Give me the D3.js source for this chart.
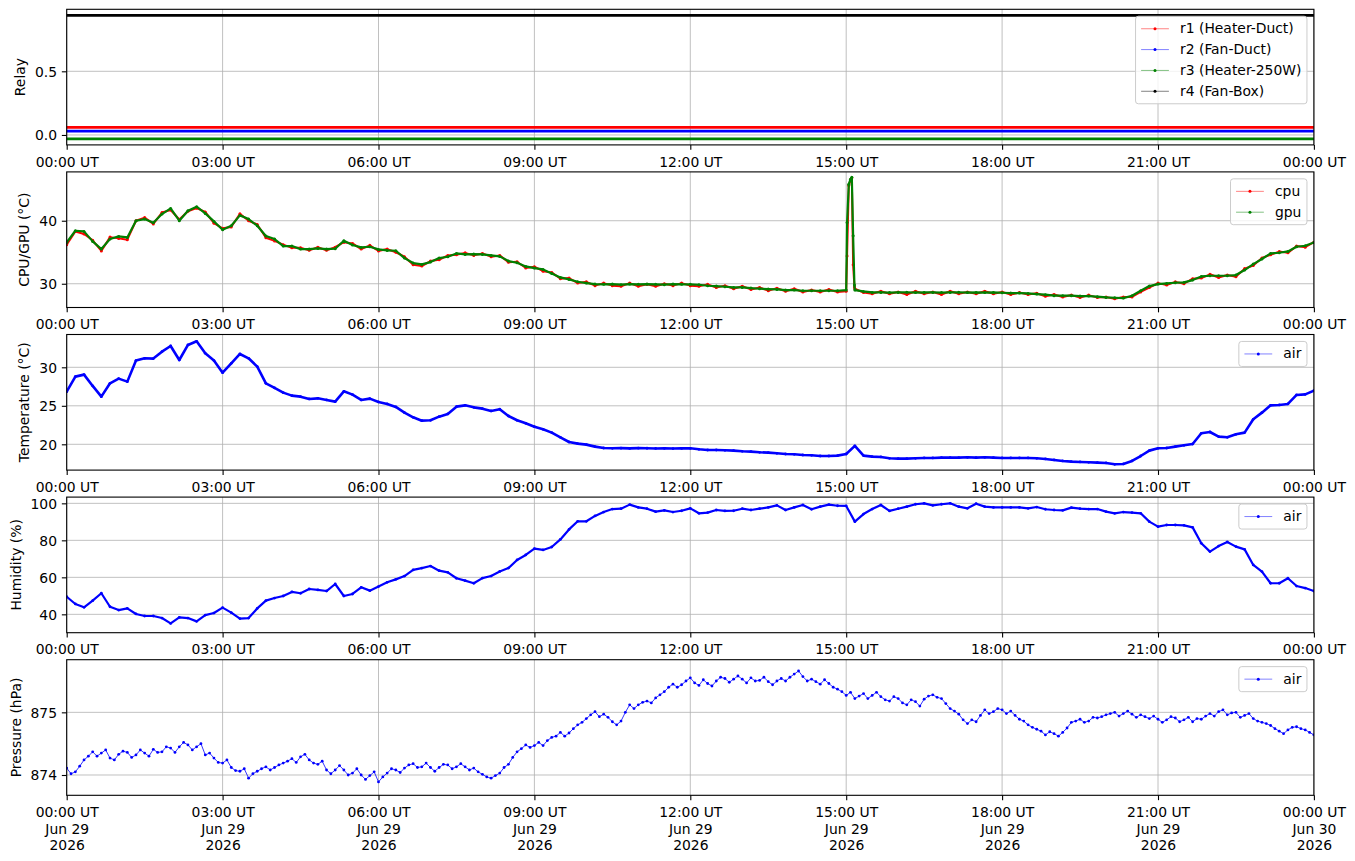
<!DOCTYPE html>
<html>
<head>
<meta charset="utf-8">
<script src="https://cdn.jsdelivr.net/npm/d3@7"></script>
<style>
  body { margin: 0; background: #fff; }
  svg { display: block; }
</style>
</head>
<body>
<div id="chart"></div>
<script>
// ---------------- data ----------------
// sample times, minutes after 00:00 UT on Jun 29 2026
var minutes = d3.range(0, 1441, 10);   // every 10 min
var minutes5 = d3.range(0, 1441, 5);   // every 5 min (pressure is noisier)

// relays: no switching during the day, plotted with a small offset so they don't overlap
var relayNames = ["r1 (Heater-Duct)", "r2 (Fan-Duct)", "r3 (Heater-250W)", "r4 (Fan-Box)"];
var relayMinutes = [0, 1440];
var relayStates = [[0, 0], [0, 0], [0, 0], [1, 1]];
var relayOffsets = [0.06, 0.03, -0.03, -0.06];

var gpuTemp = [
  36.56, 38.41, 38.31, 36.72, 35.50, 37.09, 37.51, 37.35, 40.00, 40.26,
  39.68, 41.06, 41.96, 40.00, 41.59, 42.22, 41.16, 39.89, 38.57, 39.21,
  40.85, 40.26, 39.21, 37.57, 37.09, 35.98, 35.98, 35.50, 35.50, 35.61,
  35.50, 35.56, 36.83, 36.14, 35.77, 35.87, 35.45, 35.29, 35.24, 34.07,
  33.28, 33.07, 33.44, 34.07, 34.29, 34.81, 34.66, 34.71, 34.66, 34.50,
  34.34, 33.60, 33.33, 32.75, 32.49, 32.28, 31.64, 31.01, 30.69, 30.32,
  30.11, 29.95, 29.90, 29.95, 29.85, 29.95, 29.90, 29.95, 29.90, 29.85,
  29.95, 29.90, 29.90, 29.84, 29.68, 29.63, 29.52, 29.42, 29.42, 29.31,
  29.21, 29.15, 29.10, 29.00, 29.00, 28.89, 28.89, 28.89, 28.89, 28.89,
  29.00, 29.00, 28.78, 28.62, 28.62, 28.60, 28.62, 28.65, 28.60, 28.62,
  28.62, 28.60, 28.62, 28.65, 28.60, 28.62, 28.60, 28.62, 28.57, 28.52,
  28.52, 28.47, 28.36, 28.26, 28.10, 28.10, 28.10, 28.05, 28.05, 27.95,
  27.83, 27.78, 27.72, 28.10, 28.89, 29.63, 29.95, 30.05, 30.16, 30.21,
  30.58, 31.16, 31.27, 31.27, 31.27, 31.38, 32.17, 33.12, 33.92, 34.81,
  34.92, 35.13, 35.87, 36.03, 36.56
];
var cpuTemp = [
  36.2, 38.3, 37.9, 36.9, 35.2, 37.4, 37.2, 37.0, 40.0, 40.5,
  39.5, 41.3, 41.7, 40.2, 41.5, 42.0, 41.4, 39.6, 38.8, 39.0,
  41.1, 40.0, 39.4, 37.3, 36.8, 36.2, 35.7, 35.7, 35.3, 35.8,
  35.3, 35.8, 36.6, 36.4, 35.5, 36.1, 35.2, 35.5, 35.0, 34.3,
  33.0, 32.8, 33.6, 33.8, 34.5, 34.6, 34.9, 34.5, 34.8, 34.3,
  34.5, 33.4, 33.5, 32.5, 32.7, 32.0, 31.8, 30.8, 30.9, 30.1,
  30.3, 29.7, 30.1, 29.7, 29.6, 30.1, 29.6, 29.9, 29.6, 30.0,
  29.7, 30.1, 29.7, 29.6, 29.9, 29.4, 29.7, 29.2, 29.6, 29.1,
  29.4, 28.9, 29.3, 28.8, 29.2, 28.7, 29.0, 28.7, 29.1, 28.7,
  28.8, 29.2, 28.6, 28.4, 28.8, 28.4, 28.7, 28.3, 28.8, 28.4,
  28.7, 28.3, 28.8, 28.4, 28.7, 28.4, 28.8, 28.4, 28.7, 28.3,
  28.6, 28.3, 28.5, 28.0, 28.3, 27.9, 28.2, 27.8, 28.2, 27.8,
  27.9, 27.6, 27.9, 27.9, 28.7, 29.4, 30.1, 29.8, 30.3, 30.0,
  30.8, 30.9, 31.5, 31.0, 31.4, 31.1, 32.4, 32.9, 34.1, 34.6,
  35.1, 34.9, 36.0, 35.8, 36.6
];
// extra samples around the short spike just after 15:00 UT
var spikeMinutes = [901, 903, 905, 906.5, 908, 909.5];
var spikeCpu = [34.4, 45.6, 46.5, 46.8, 33.0, 29.5];
var spikeGpu = [39.7, 45.8, 46.6, 46.9, 37.6, 29.8];

var airTemp = [
  26.84, 28.79, 29.05, 27.58, 26.19, 27.92, 28.53, 28.14, 30.87, 31.17,
  31.13, 32.03, 32.77, 30.95, 32.90, 33.38, 31.82, 30.87, 29.30, 30.52,
  31.73, 31.17, 30.09, 27.92, 27.32, 26.71, 26.32, 26.19, 25.89, 25.97,
  25.76, 25.54, 26.88, 26.45, 25.76, 25.93, 25.50, 25.24, 24.85, 24.11,
  23.51, 23.07, 23.12, 23.59, 23.94, 24.89, 25.06, 24.80, 24.63, 24.33,
  24.55, 23.68, 23.12, 22.73, 22.29, 21.95, 21.52, 20.91, 20.30, 20.09,
  19.96, 19.70, 19.52, 19.48, 19.50, 19.47, 19.50, 19.49, 19.46, 19.48,
  19.45, 19.47, 19.48, 19.35, 19.26, 19.26, 19.22, 19.18, 19.09, 19.05,
  18.96, 18.92, 18.83, 18.74, 18.70, 18.61, 18.57, 18.48, 18.48, 18.53,
  18.74, 19.80, 18.53, 18.40, 18.36, 18.18, 18.14, 18.14, 18.18, 18.23,
  18.23, 18.27, 18.27, 18.27, 18.31, 18.27, 18.31, 18.27, 18.23, 18.23,
  18.23, 18.23, 18.18, 18.10, 17.97, 17.84, 17.75, 17.71, 17.66, 17.62,
  17.58, 17.40, 17.45, 17.84, 18.48, 19.18, 19.48, 19.52, 19.70, 19.87,
  20.04, 21.43, 21.60, 21.00, 20.91, 21.30, 21.52, 23.25, 24.11, 25.06,
  25.11, 25.24, 26.41, 26.49, 26.97
];

var airHumidity = [
  49.5, 45.6, 43.8, 47.4, 51.4, 44.1, 42.3, 43.2, 40.2, 39.1,
  39.1, 38.0, 35.1, 38.4, 38.0, 36.2, 39.6, 40.7, 43.6, 40.9,
  37.7, 38.0, 43.2, 47.4, 48.8, 49.9, 52.1, 51.4, 53.7, 53.2,
  52.6, 56.4, 49.9, 51.0, 54.6, 52.8, 55.0, 57.3, 58.9, 60.7,
  64.0, 65.0, 66.1, 63.6, 62.7, 59.5, 58.2, 56.8, 59.6, 60.7,
  63.2, 65.0, 69.4, 72.1, 75.5, 74.8, 76.4, 80.5, 85.9, 90.3,
  90.3, 93.2, 95.3, 96.9, 97.1, 99.3, 97.8, 97.1, 95.5, 96.2,
  95.3, 96.0, 97.3, 94.6, 95.0, 96.4, 95.9, 96.0, 97.1, 96.4,
  97.1, 97.8, 98.9, 96.4, 97.8, 99.1, 96.8, 98.2, 99.3, 98.7,
  98.6, 90.1, 94.2, 96.9, 99.1, 95.9, 97.1, 98.2, 99.5, 100.0,
  98.9, 99.5, 100.0, 98.2, 97.3, 99.8, 98.2, 97.8, 97.8, 97.8,
  97.8, 97.3, 98.0, 96.8, 96.4, 96.2, 97.7, 97.1, 96.9, 96.9,
  95.5, 94.6, 95.3, 95.0, 94.6, 90.1, 87.4, 88.3, 88.3, 88.1,
  87.0, 78.4, 73.9, 76.9, 79.1, 76.6, 75.1, 66.7, 63.1, 56.8,
  56.8, 59.5, 55.3, 54.2, 52.6
];

// pressure, every 5 min
var airPressure = [
  874.11, 874.02, 874.05, 874.14, 874.24, 874.30, 874.37, 874.30, 874.35, 874.40, 874.27, 874.24, 874.33, 874.38, 874.36, 874.28, 874.32, 874.40, 874.35, 874.30,
  874.41, 874.36, 874.37, 874.45, 874.43, 874.36, 874.45, 874.52, 874.48, 874.40, 874.45, 874.50, 874.32, 874.35, 874.27, 874.20, 874.19, 874.24, 874.12, 874.07,
  874.06, 874.10, 873.95, 874.02, 874.06, 874.10, 874.13, 874.08, 874.12, 874.16, 874.19, 874.22, 874.26, 874.20, 874.29, 874.33, 874.24, 874.19, 874.17, 874.22,
  874.08, 874.02, 874.08, 874.15, 874.08, 874.00, 874.03, 874.10, 874.00, 873.93, 873.99, 874.05, 873.89, 873.97, 874.03, 874.10, 874.08, 874.04, 874.11, 874.16,
  874.18, 874.12, 874.13, 874.19, 874.12, 874.06, 874.12, 874.17, 874.16, 874.10, 874.13, 874.18, 874.13, 874.08, 874.11, 874.05, 874.01, 873.97, 873.95, 873.99,
  874.03, 874.12, 874.17, 874.28, 874.37, 874.42, 874.48, 874.44, 874.47, 874.52, 874.47, 874.55, 874.60, 874.62, 874.68, 874.62, 874.67, 874.74, 874.80, 874.84,
  874.90, 874.96, 875.01, 874.93, 874.97, 874.92, 874.85, 874.80, 874.86, 875.00, 875.12, 875.06, 875.12, 875.16, 875.18, 875.15, 875.23, 875.28, 875.33, 875.40,
  875.45, 875.40, 875.44, 875.50, 875.55, 875.47, 875.43, 875.52, 875.46, 875.42, 875.50, 875.56, 875.54, 875.48, 875.53, 875.58, 875.53, 875.47, 875.55, 875.50,
  875.51, 875.56, 875.49, 875.44, 875.50, 875.54, 875.50, 875.56, 875.61, 875.66, 875.57, 875.50, 875.53, 875.49, 875.45, 875.52, 875.46, 875.40, 875.37, 875.33,
  875.27, 875.32, 875.22, 875.26, 875.30, 875.22, 875.27, 875.32, 875.25, 875.20, 875.18, 875.25, 875.22, 875.15, 875.12, 875.20, 875.17, 875.10, 875.21, 875.26,
  875.28, 875.24, 875.22, 875.14, 875.06, 875.02, 874.97, 874.88, 874.82, 874.88, 874.85, 874.95, 875.04, 874.98, 875.01, 875.06, 875.04, 874.98, 875.02, 874.95,
  874.89, 874.86, 874.80, 874.76, 874.73, 874.70, 874.64, 874.69, 874.66, 874.62, 874.68, 874.75, 874.84, 874.86, 874.89, 874.84, 874.86, 874.92, 874.91, 874.93,
  874.96, 874.98, 875.00, 874.94, 874.98, 875.02, 874.97, 874.92, 874.96, 874.93, 874.90, 874.94, 874.89, 874.84, 874.88, 874.93, 874.91, 874.85, 874.88, 874.92,
  874.85, 874.90, 874.89, 874.94, 874.98, 874.94, 875.01, 875.04, 874.96, 874.99, 875.00, 874.92, 874.95, 874.98, 874.90, 874.86, 874.84, 874.82, 874.79, 874.74,
  874.70, 874.66, 874.72, 874.76, 874.77, 874.74, 874.72, 874.68, 874.64
];

// axis ticks
var xTickMinutes = d3.range(0, 1441, 180);

// ---------------- layout ----------------
var svgWidth = 1355;
var svgHeight = 861;
var plotLeft = 66.7;
var plotRight = 1313.9;
var panelTop0 = 9.3;
var panelStep = 162.6;
var panelHeight = 135.6;
var fontSize = 13.9;
var tickLen = 4.86;

var svg = d3.select("#chart")
  .append("svg")
  .attr("width", svgWidth)
  .attr("height", svgHeight)
  .attr("font-family", "'DejaVu Sans', sans-serif");

var t0 = Date.UTC(2026, 5, 29);
function toDate(m) { return new Date(t0 + m * 60000); }

var xScale = d3.scaleUtc()
  .domain([toDate(0), toDate(1440)])
  .range([plotLeft, plotRight]);

var hourFmt = d3.utcFormat("%H:%M UT");
var dayFmt = d3.utcFormat("%b %d");
var yearFmt = d3.utcFormat("%Y");

// Build one panel: grid, axes, label, clip area for data
function makePanel(i, label, yDomain, yTicks, yFmt, lastPanel) {
  var top = panelTop0 + i * panelStep;
  var bottom = top + panelHeight;
  var y = d3.scaleLinear().domain(yDomain).range([bottom, top]);
  var g = svg.append("g");

  // grid
  g.selectAll(".vgrid")
    .data(xTickMinutes)
    .enter()
    .append("line")
    .attr("x1", d => xScale(toDate(d)))
    .attr("x2", d => xScale(toDate(d)))
    .attr("y1", top)
    .attr("y2", bottom)
    .attr("stroke", "#b0b0b0")
    .attr("stroke-width", 0.8);

  g.selectAll(".hgrid")
    .data(yTicks)
    .enter()
    .append("line")
    .attr("x1", plotLeft)
    .attr("x2", plotRight)
    .attr("y1", d => y(d))
    .attr("y2", d => y(d))
    .attr("stroke", "#b0b0b0")
    .attr("stroke-width", 0.8);

  // x axis
  var xAxis = g.append("g")
    .attr("transform", `translate(0, ${bottom})`)
    .call(d3.axisBottom(xScale)
      .tickValues(xTickMinutes.map(toDate))
      .tickSize(tickLen)
      .tickFormat(hourFmt));
  xAxis.select(".domain").remove();
  xAxis.attr("font-size", fontSize).attr("font-family", null);
  xAxis.selectAll(".tick line").attr("stroke", "#000").attr("stroke-width", 1.1);
  xAxis.selectAll(".tick text")
    .attr("fill", "#000")
    .attr("dy", null)
    .attr("y", 21.8)
    .each(function(d) {
      if (!lastPanel) return;
      var t = d3.select(this);
      var lines = [hourFmt(d), dayFmt(d), yearFmt(d)];
      t.text(null);
      lines.forEach(function(s, j) {
        t.append("tspan").attr("x", 0).attr("y", 21.8 + j * 16.7).text(s);
      });
    });

  // y axis
  var yAxis = g.append("g")
    .attr("transform", `translate(${plotLeft}, 0)`)
    .call(d3.axisLeft(y)
      .tickValues(yTicks)
      .tickSize(tickLen)
      .tickPadding(tickLen)
      .tickFormat(yFmt));
  yAxis.select(".domain").remove();
  yAxis.attr("font-size", fontSize).attr("font-family", null);
  yAxis.selectAll(".tick line").attr("stroke", "#000").attr("stroke-width", 1.1);
  yAxis.selectAll(".tick text").attr("fill", "#000").attr("dy", "0.34em");

  // y label left of the widest tick label
  var minX = plotLeft;
  yAxis.selectAll(".tick text").each(function() {
    var b = this.getBBox();
    minX = Math.min(minX, plotLeft + b.x);
  });
  g.append("text")
    .attr("transform", `translate(${minX - 5.56 - 4.3}, ${(top + bottom) / 2}) rotate(-90)`)
    .attr("text-anchor", "middle")
    .attr("font-size", fontSize)
    .text(label);

  // clip for data
  var clipId = "clip" + i;
  svg.append("clipPath").attr("id", clipId)
    .append("rect")
    .attr("x", plotLeft).attr("y", top)
    .attr("width", plotRight - plotLeft).attr("height", panelHeight);
  var plot = svg.append("g").attr("clip-path", `url(#${clipId})`);

  return { g: g, plot: plot, y: y, top: top, bottom: bottom };
}

// spines drawn on top of the data
function drawFrame(p) {
  svg.append("rect")
    .attr("x", plotLeft)
    .attr("y", p.top)
    .attr("width", plotRight - plotLeft)
    .attr("height", panelHeight)
    .attr("fill", "none")
    .attr("stroke", "#000")
    .attr("stroke-width", 1.1);
}

// line + dot markers
function drawSeries(p, pts, color, lw, r) {
  var line = d3.line()
    .x(d => xScale(toDate(d[0])))
    .y(d => p.y(d[1]));
  p.plot.append("path")
    .datum(pts)
    .attr("d", line)
    .attr("fill", "none")
    .attr("stroke", color)
    .attr("stroke-width", lw)
    .attr("stroke-linejoin", "round")
    .attr("stroke-linecap", "round");
  if (r > 0) {
    p.plot.append("g")
      .selectAll("circle")
      .data(pts)
      .enter()
      .append("circle")
      .attr("cx", d => xScale(toDate(d[0])))
      .attr("cy", d => p.y(d[1]))
      .attr("r", r)
      .attr("fill", color);
  }
}

function zipSeries(times, vals) {
  return times.map((m, i) => [m, vals[i]]);
}

// matplotlib style legend in the upper right corner
function addLegend(p, labels, colors) {
  var pad = 5.56, rowH = 13.9, gap = 6.94, handleLen = 27.8, textPad = 11.1;
  var lg = svg.append("g");
  var box = lg.append("rect");
  var texts = lg.selectAll("text")
    .data(labels)
    .enter()
    .append("text")
    .attr("font-size", fontSize)
    .text(d => d);
  var maxW = 0;
  texts.each(function() { maxW = Math.max(maxW, this.getComputedTextLength()); });
  var w = 2 * pad + handleLen + textPad + maxW;
  var h = 2 * pad + labels.length * rowH + (labels.length - 1) * gap;
  var x0 = plotRight - 6.94 - w;
  var y0 = p.top + 6.94;
  box.attr("x", x0).attr("y", y0).attr("width", w).attr("height", h)
    .attr("rx", 2.8)
    .attr("fill", "#fff").attr("fill-opacity", 0.8)
    .attr("stroke", "#cccccc").attr("stroke-width", 1);
  var cy = (i) => y0 + pad + rowH / 2 + i * (rowH + gap);
  texts.attr("x", x0 + pad + handleLen + textPad)
    .attr("y", (d, i) => cy(i))
    .attr("dy", "0.32em");
  lg.selectAll(".handle")
    .data(labels)
    .enter()
    .append("line")
    .attr("x1", x0 + pad)
    .attr("x2", x0 + pad + handleLen)
    .attr("y1", (d, i) => cy(i))
    .attr("y2", (d, i) => cy(i))
    .attr("stroke", (d, i) => colors[i])
    .attr("stroke-opacity", 0.7)
    .attr("stroke-width", 0.7);
  lg.selectAll(".mark")
    .data(labels)
    .enter()
    .append("circle")
    .attr("cx", x0 + pad + handleLen / 2)
    .attr("cy", (d, i) => cy(i))
    .attr("r", 1.5)
    .attr("fill", (d, i) => colors[i]);
}

// ---------------- panels ----------------
var relayColors = ["#ff0000", "#0000ff", "#008000", "#000000"];

var p1 = makePanel(0, "Relay", [-0.078, 0.987], [0, 0.5], d3.format(".1f"), false);
relayStates.forEach(function(states, j) {
  var vals = states.map(s => s + relayOffsets[j]);
  drawSeries(p1, zipSeries(relayMinutes, vals), relayColors[j], 2.7, 0);
});
drawFrame(p1);
addLegend(p1, relayNames, relayColors);

var p2 = makePanel(1, "CPU/GPU (°C)", [26.23, 47.75], [30, 40], d3.format("d"), false);
var cpuPts = zipSeries(minutes, cpuTemp).concat(zipSeries(spikeMinutes, spikeCpu)).sort((a, b) => a[0] - b[0]);
var gpuPts = zipSeries(minutes, gpuTemp).concat(zipSeries(spikeMinutes, spikeGpu)).sort((a, b) => a[0] - b[0]);
drawSeries(p2, cpuPts, "#ff0000", 2.0, 1.5);
drawSeries(p2, gpuPts, "#008000", 2.2, 1.5);
drawFrame(p2);
addLegend(p2, ["cpu", "gpu"], ["#ff0000", "#008000"]);

var p3 = makePanel(2, "Temperature (°C)", [16.65, 34.26], [20, 25, 30], d3.format("d"), false);
drawSeries(p3, zipSeries(minutes, airTemp), "#0000ff", 2.6, 1.4);
drawFrame(p3);
addLegend(p3, ["air"], ["#0000ff"]);

var p4 = makePanel(3, "Humidity (%)", [30.07, 103.37], [40, 60, 80, 100], d3.format("d"), false);
drawSeries(p4, zipSeries(minutes, airHumidity), "#0000ff", 2.2, 1.4);
drawFrame(p4);
addLegend(p4, ["air"], ["#0000ff"]);

var p5 = makePanel(4, "Pressure (hPa)", [873.676, 875.84], [874, 875], d3.format("d"), true);
drawSeries(p5, zipSeries(minutes5, airPressure), "#0000ff", 0.8, 1.4);
drawFrame(p5);
addLegend(p5, ["air"], ["#0000ff"]);
</script>
</body>
</html>
